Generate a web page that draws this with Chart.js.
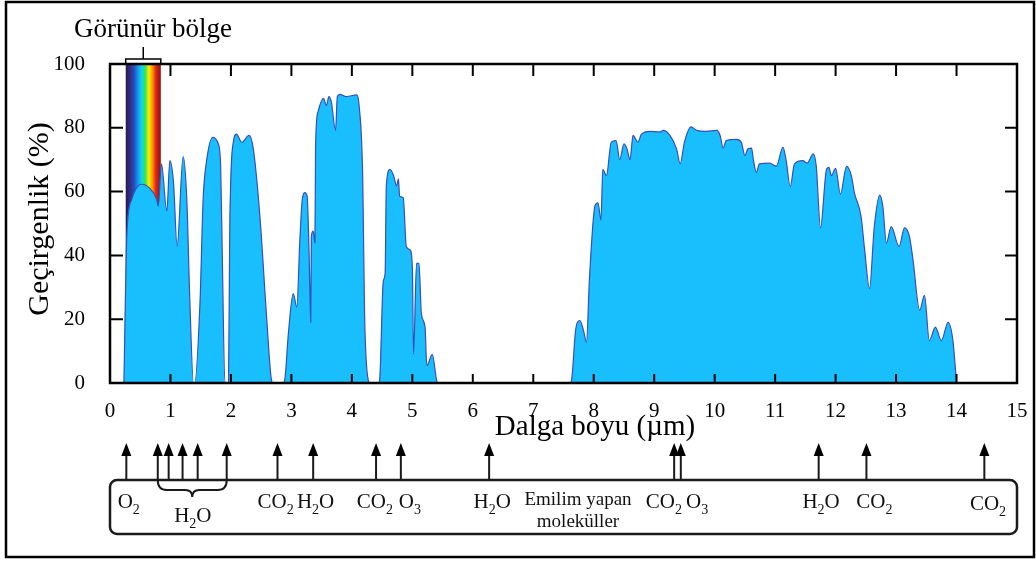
<!DOCTYPE html>
<html>
<head>
<meta charset="utf-8">
<script src="https://cdn.jsdelivr.net/npm/chart.js@4"></script>
<style>
  body { margin: 0; background: #fff; }
  canvas { display: block; }
</style>
</head>
<body>
<canvas id="chart" width="1036" height="561"></canvas>
<script>
// atmosferik geçirgenlik eğrisi (µm, %)
const wavelength = [
  0.23, 0.28, 0.36, 0.45, 0.52, 0.66, 0.77, 0.80, 0.85, 0.94, 0.99, 1.05, 1.11, 1.21, 1.27, 1.32, 1.38,
  1.40, 1.49, 1.54, 1.60, 1.70, 1.79, 1.83, 1.86, 1.90,
  1.96, 1.98, 2.04, 2.09, 2.18, 2.30, 2.37, 2.48, 2.59, 2.67, 2.70,
  2.86, 2.89, 2.95, 3.03, 3.09, 3.14, 3.18, 3.22, 3.26, 3.29, 3.32, 3.33, 3.36, 3.39, 3.40, 3.44, 3.53,
  3.58, 3.62, 3.66, 3.73, 3.76, 3.80, 3.91, 4.08, 4.12, 4.18, 4.21, 4.27, 4.30,
  4.44, 4.46, 4.52, 4.55, 4.57, 4.63, 4.69, 4.74, 4.77, 4.79, 4.85, 4.90, 4.96, 5.00, 5.02, 5.07, 5.11,
  5.15, 5.21, 5.24, 5.33, 5.40, 5.42,
  7.60, 7.63, 7.70, 7.77, 7.83, 7.88, 7.93, 8.02, 8.07, 8.12, 8.15, 8.21, 8.29, 8.37, 8.43, 8.50, 8.55,
  8.60, 8.65, 8.73, 8.79, 8.93, 9.09, 9.15, 9.26, 9.37, 9.43, 9.50, 9.61, 9.70, 9.86, 10.03, 10.09,
  10.14, 10.19, 10.36, 10.44, 10.50, 10.55, 10.61, 10.64, 10.69, 10.74, 10.91, 11.02, 11.13, 11.18,
  11.25, 11.32, 11.46, 11.53, 11.63, 11.68, 11.75, 11.85, 11.89, 11.93, 12.00, 12.08, 12.18, 12.26,
  12.31, 12.42, 12.48, 12.56, 12.64, 12.73, 12.78, 12.84, 12.92, 13.05, 13.14, 13.22, 13.28, 13.39,
  13.47, 13.55, 13.65, 13.75, 13.86, 13.94, 14.00
];
const transmittance = [
  0, 47, 57.6, 61.5, 62.3, 61, 57.6, 55.5, 68.7, 53.9, 69.7, 62.9, 42.8, 71, 57.6, 26, 0,
  0, 26, 57.6, 70, 77, 75, 68, 36.5, 0,
  0, 47, 75.5, 78, 75.5, 77.6, 73.4, 52, 20.7, 1, 0,
  0, 1, 15.5, 28, 23.8, 45, 57.6, 59.7, 58.6, 42.8, 19, 46, 47.6, 43.9, 74.5, 85, 89.2,
  87, 89.8, 88.2, 79.2, 89.8, 90.5, 89.8, 90.3, 87, 64, 21.7, 1, 0,
  0, 1, 32, 34.4, 61.8, 67, 65, 61.8, 64, 58.6, 58, 42.8, 41.8, 36.5, 9, 37.5, 37.5,
  21.7, 17.5, 5.4, 9, 1, 0,
  0, 0.6, 16.5, 19.6, 16.5, 12.8, 33, 55.5, 56.5, 51, 67, 65, 75.5, 76, 70, 75, 73.4,
  70, 77.6, 75.5, 78, 78.9, 78.7, 79.2, 77.6, 73.4, 68.7, 75.5, 80.3, 79.2, 78.9, 79.2, 77.6,
  73.6, 76, 76.4, 75.5, 71.3, 73.4, 73.6, 70, 66, 68.7, 68.9, 68, 73.9, 70,
  61.6, 68.7, 69.7, 68.9, 71.8, 68, 48.6, 67, 67.6, 65, 67.3, 59.2, 67.9, 65,
  59.7, 52.3, 41.8, 29.6, 49, 58.9, 55.5, 43.9, 49, 42.8, 48.6, 46, 38.6, 22.8,
  27.5, 13.3, 17.5, 13.3, 19, 13.3, 0
];

// emilim bantları (oklar) ve molekül etiketleri
const absorptionBands = [0.27, 0.79, 0.97, 1.2, 1.45, 1.93, 2.77, 3.36, 4.4, 4.81, 6.27, 9.33, 9.44, 11.72, 12.51, 14.46];
const moleculeNames = ['O2', 'H2O', 'CO2', 'H2O', 'CO2', 'O3', 'H2O', 'CO2', 'O3', 'H2O', 'CO2', 'CO2'];
const moleculeAt = [0.31, 1.37, 2.74, 3.40, 4.38, 4.96, 6.32, 9.16, 9.71, 11.76, 12.64, 14.52];
const visibleBand = [0.26, 0.84];
const xTicks = [0, 15, 1];
const yTicks = [0, 100, 20];

const serif = '"Liberation Serif", "Times New Roman", serif';

function drawFormula(ctx, txt, cx, base, size) {
  const subSize = Math.round(size * 0.68);
  const chars = [...txt].map(ch => ({ ch, sub: /\d/.test(ch) }));
  let total = 0;
  chars.forEach(c => {
    ctx.font = (c.sub ? subSize : size) + 'px ' + serif;
    c.w = ctx.measureText(c.ch).width;
    total += c.w;
  });
  let x = cx - total / 2;
  ctx.textAlign = 'left';
  ctx.textBaseline = 'alphabetic';
  chars.forEach(c => {
    ctx.font = (c.sub ? subSize : size) + 'px ' + serif;
    ctx.fillText(c.ch, x, c.sub ? base + size * 0.28 : base);
    x += c.w;
  });
}

const decor = {
  id: 'decor',
  beforeDatasetsDraw(chart) {
    const { ctx, chartArea: a, scales: { x } } = chart;
    const x0 = x.getPixelForValue(visibleBand[0]);
    const x1 = x.getPixelForValue(visibleBand[1]);
    const g = ctx.createLinearGradient(x0, 0, x1, 0);
    g.addColorStop(0, '#2a1a48');
    g.addColorStop(0.12, '#352c80');
    g.addColorStop(0.24, '#2050c0');
    g.addColorStop(0.36, '#1a9cf0');
    g.addColorStop(0.46, '#00dcf0');
    g.addColorStop(0.56, '#40e050');
    g.addColorStop(0.66, '#f4f400');
    g.addColorStop(0.76, '#ff9800');
    g.addColorStop(0.86, '#e02418');
    g.addColorStop(1, '#8c1010');
    ctx.save();
    ctx.fillStyle = g;
    ctx.fillRect(x0, a.top, x1 - x0, a.bottom - a.top);
    ctx.restore();
  },
  afterDraw(chart) {
    const { ctx, chartArea: a, scales: { x, y } } = chart;
    ctx.save();
    ctx.strokeStyle = '#000';
    ctx.fillStyle = '#000';

    // çerçeve
    ctx.lineWidth = 2.5;
    ctx.strokeRect(a.left, a.top, a.right - a.left, a.bottom - a.top);

    // içe dönük çentikler
    ctx.lineWidth = 2;
    ctx.beginPath();
    for (let v = xTicks[0] + xTicks[2]; v < xTicks[1]; v += xTicks[2]) {
      const px = x.getPixelForValue(v);
      ctx.moveTo(px, a.bottom); ctx.lineTo(px, a.bottom - 9);
      ctx.moveTo(px, a.top); ctx.lineTo(px, a.top + 12);
    }
    for (let v = yTicks[0] + yTicks[2]; v < yTicks[1]; v += yTicks[2]) {
      const py = y.getPixelForValue(v);
      ctx.moveTo(a.left, py); ctx.lineTo(a.left + 13, py);
      ctx.moveTo(a.right, py); ctx.lineTo(a.right - 12, py);
    }
    ctx.stroke();

    // görünür bölge parantezi
    const bx0 = x.getPixelForValue(visibleBand[0]);
    const bx1 = x.getPixelForValue(visibleBand[1]);
    const bm = (bx0 + bx1) / 2;
    ctx.lineWidth = 1.5;
    ctx.beginPath();
    ctx.moveTo(bx0, a.top - 1); ctx.lineTo(bx0, a.top - 5); ctx.lineTo(bx1, a.top - 5); ctx.lineTo(bx1, a.top - 1);
    ctx.moveTo(bm, a.top - 5); ctx.lineTo(bm, a.top - 17);
    ctx.stroke();
    ctx.font = '27px ' + serif;
    ctx.textAlign = 'center';
    ctx.textBaseline = 'alphabetic';
    ctx.fillText('Görünür bölge', 153, 37);

    // eksen başlıkları
    ctx.font = '29px ' + serif;
    ctx.fillText('Dalga boyu (µm)', 595, 435);
    ctx.save();
    ctx.translate(48, 219);
    ctx.rotate(-Math.PI / 2);
    ctx.font = '30px ' + serif;
    ctx.fillText('Geçirgenlik (%)', 0, 0);
    ctx.restore();

    // emilim kutusu
    const boxTop = 480, boxBottom = 534;
    ctx.strokeStyle = '#1a1a1a';
    ctx.lineWidth = 2.5;
    ctx.beginPath();
    ctx.roundRect(a.left, boxTop, a.right - a.left, boxBottom - boxTop, 7);
    ctx.stroke();

    // oklar
    ctx.lineWidth = 2;
    absorptionBands.forEach(v => {
      const px = x.getPixelForValue(v);
      ctx.beginPath();
      ctx.moveTo(px, boxTop); ctx.lineTo(px, 452);
      ctx.stroke();
      ctx.beginPath();
      ctx.moveTo(px, 443); ctx.lineTo(px - 5, 456); ctx.lineTo(px + 5, 456);
      ctx.closePath();
      ctx.fill();
    });

    // H2O küme parantezi
    const c0 = x.getPixelForValue(absorptionBands[1]);
    const c1 = x.getPixelForValue(absorptionBands[5]);
    const cm = (c0 + c1) / 2;
    ctx.lineWidth = 2;
    ctx.beginPath();
    ctx.moveTo(c0, boxTop);
    ctx.quadraticCurveTo(c0, boxTop + 10, c0 + 9, boxTop + 10);
    ctx.lineTo(cm - 7, boxTop + 10);
    ctx.quadraticCurveTo(cm, boxTop + 10, cm, boxTop + 17);
    ctx.quadraticCurveTo(cm, boxTop + 10, cm + 7, boxTop + 10);
    ctx.lineTo(c1 - 9, boxTop + 10);
    ctx.quadraticCurveTo(c1, boxTop + 10, c1, boxTop);
    ctx.stroke();

    // molekül etiketleri
    ctx.fillStyle = '#111';
    moleculeNames.forEach((m, i) => {
      let base = 508;
      if (i === 1) base = 522;
      if (i === moleculeNames.length - 1) base = 510;
      drawFormula(ctx, m, x.getPixelForValue(moleculeAt[i]), base, 21);
    });
    ctx.font = '19px ' + serif;
    ctx.textAlign = 'center';
    ctx.fillText('Emilim yapan', 578, 505);
    ctx.fillText('moleküller', 578, 527);

    // dış çerçeve
    ctx.strokeStyle = '#000';
    ctx.lineWidth = 2.5;
    ctx.strokeRect(6, 2, 1028, 555);
    ctx.restore();
  }
};

const ctx = document.getElementById('chart').getContext('2d');
new Chart(ctx, {
  type: 'line',
  data: {
    datasets: [{
      data: wavelength.map((w, i) => ({ x: w, y: transmittance[i] })),
      fill: 'origin',
      backgroundColor: '#19bffd',
      borderColor: '#3550b8',
      borderWidth: 1.2,
      pointRadius: 0,
      cubicInterpolationMode: 'monotone'
    }]
  },
  options: {
    responsive: false,
    animation: false,
    layout: { padding: { top: 64, right: 19, left: 0, bottom: 0 } },
    plugins: { legend: { display: false }, tooltip: { enabled: false } },
    scales: {
      x: {
        type: 'linear',
        min: xTicks[0], max: xTicks[1],
        grid: { display: false },
        border: { display: false },
        ticks: { stepSize: xTicks[2], color: '#000', padding: 8, font: { family: serif, size: 21 } },
        afterFit: s => { s.height = 178; }
      },
      y: {
        min: yTicks[0], max: yTicks[1],
        grid: { display: false },
        border: { display: false },
        ticks: { stepSize: yTicks[2], color: '#000', padding: 17, font: { family: serif, size: 21 } },
        afterFit: s => { s.width = 110; }
      }
    }
  },
  plugins: [decor]
});
</script>
</body>
</html>
